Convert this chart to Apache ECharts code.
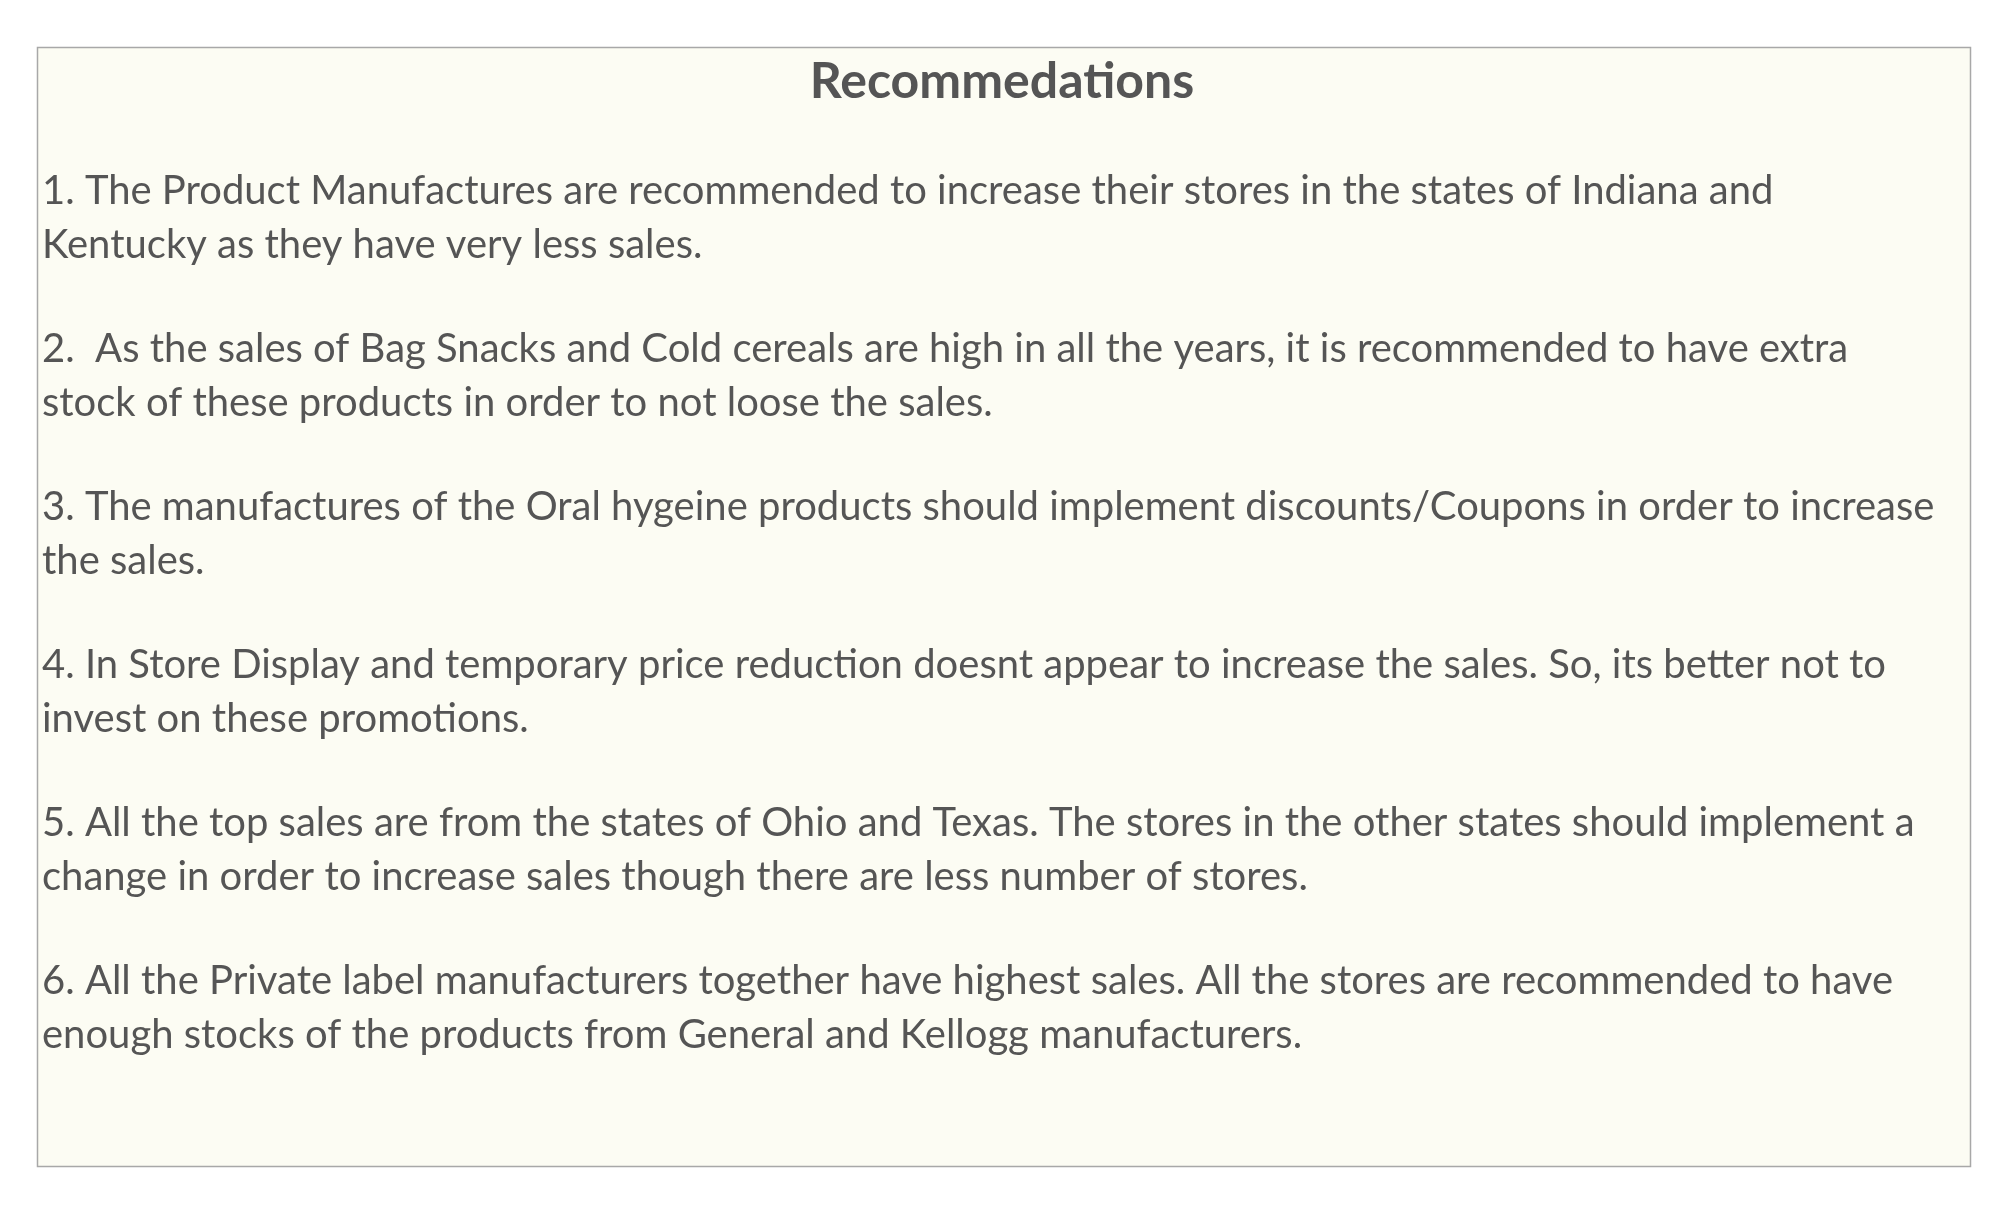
<!DOCTYPE html>
<html><head><meta charset="utf-8">
<script src="https://cdn.jsdelivr.net/npm/echarts@6/dist/echarts.min.js"></script>
<style>html,body{margin:0;padding:0;background:#fff}#c{width:2004px;height:1228px}</style>
</head><body><div id="c"></div>
<script>
// 标题与正文
const TITLE = 'Recommedations';
const PARAGRAPHS = [
    ['1. The Product Manufactures are recommended to increase their stores in the states of Indiana and', 'Kentucky as they have very less sales.'],
    ['2.  As the sales of Bag Snacks and Cold cereals are high in all the years, it is recommended to have extra', 'stock of these products in order to not loose the sales.'],
    ['3. The manufactures of the Oral hygeine products should implement discounts/Coupons in order to increase', 'the sales.'],
    ['4. In Store Display and temporary price reduction doesnt appear to increase the sales. So, its better not to', 'invest on these promotions.'],
    ['5. All the top sales are from the states of Ohio and Texas. The stores in the other states should implement a', 'change in order to increase sales though there are less number of stores.'],
    ['6. All the Private label manufacturers together have highest sales. All the stores are recommended to have', 'enough stocks of the products from General and Kellogg manufacturers.']
];

const chart = echarts.init(document.getElementById('c'));
const FONT = 'Lato, "Open Sans", sans-serif';
const elements = [{
    type: 'rect', shape: { x: 37.5, y: 47.5, width: 1933, height: 1119 },
    style: { fill: '#fcfcf3', stroke: '#a8a8a8', lineWidth: 1.5 }
}];
PARAGRAPHS.forEach((lines, i) => {
    lines.forEach((t, j) => {
        elements.push({
            type: 'text', x: 42, y: 191 + i * 158 + j * 54,
            style: { text: t, fill: '#555555', font: '40px ' + FONT, textVerticalAlign: 'middle' }
        });
    });
});
chart.setOption({
    backgroundColor: '#ffffff',
    title: {
        text: TITLE, left: 'center', top: 52,
        textStyle: { color: '#555555', fontSize: 50, fontWeight: 'bold', fontFamily: FONT }
    },
    graphic: elements
});
</script></body></html>
